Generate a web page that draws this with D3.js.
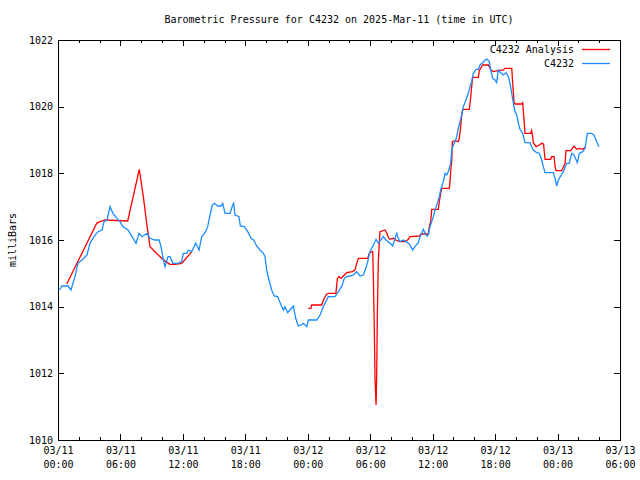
<!DOCTYPE html>
<html><head><meta charset="utf-8">
<script src="https://cdn.jsdelivr.net/npm/d3@7"></script>
<style>body{margin:0;background:#fff}svg{display:block}text{font-family:"DejaVu Sans Mono",monospace;font-size:10px;fill:#000}</style>
</head><body>
<script>
const title = "Barometric Pressure for C4232 on 2025-Mar-11 (time in UTC)";
const yLabel = "milliBars";
const seriesNames = ["C4232 Analysis", "C4232"];
const startTime = "2025-03-11T00:00:00Z";
const endTime = "2025-03-13T06:00:00Z";
const yTicks = [1010, 1012, 1014, 1016, 1018, 1020, 1022];
// hours since 03/11 00:00 UTC
const stationHours = [0.15,0.38,0.96,1.25,1.63,1.92,2.31,2.79,3.07,3.46,3.84,4.23,4.42,4.71,5.0,5.28,5.67,5.96,6.25,6.73,7.11,7.5,7.78,8.07,8.55,8.84,9.32,9.71,9.9,10.09,10.28,10.57,10.76,11.05,11.53,11.89,12.04,12.37,12.52,12.85,13.23,13.55,13.81,14.19,14.38,14.61,14.83,15.02,15.35,15.66,15.83,16.05,16.53,16.75,16.88,17.01,17.39,17.52,17.9,18.23,18.55,18.8,19.09,19.41,19.73,19.89,20.05,20.27,20.53,20.78,21.11,21.43,21.65,21.81,22.07,22.29,22.61,22.84,23.09,23.35,23.57,23.9,24.05,24.86,25.18,25.49,25.82,25.97,26.62,26.93,27.26,27.51,27.74,28.06,28.38,28.7,29.02,29.34,29.57,29.76,29.98,30.3,30.56,30.78,31.26,31.52,31.9,32.16,32.38,32.55,32.7,32.86,33.18,33.44,33.76,34.08,34.3,34.62,34.78,34.95,35.1,35.43,35.58,35.74,35.91,36.06,36.23,36.45,36.64,36.77,37.02,37.19,37.35,37.5,37.73,37.83,37.98,38.15,38.31,38.46,38.63,38.79,38.94,39.2,39.42,39.59,39.75,39.9,40.16,40.39,40.55,40.81,41.03,41.25,41.44,41.58,41.77,41.99,42.15,42.31,42.54,42.79,43.05,43.27,43.43,43.6,43.75,43.91,44.08,44.23,44.39,44.65,44.87,45.35,45.51,45.67,46.0,46.25,46.48,46.63,46.8,47.59,47.76,47.92,48.07,48.3,48.55,48.88,49.13,49.36,49.58,49.9,50.09,50.42,50.64,50.86,51.28,51.5,51.76,51.96];
const stationValues = [1014.5,1014.62,1014.62,1014.5,1014.9,1015.3,1015.4,1015.55,1015.9,1016.1,1016.25,1016.3,1016.55,1016.6,1017.0,1016.8,1016.65,1016.55,1016.4,1016.3,1016.1,1015.9,1016.2,1016.1,1016.2,1016.05,1016.0,1016.0,1015.8,1015.45,1015.2,1015.5,1015.5,1015.3,1015.3,1015.35,1015.6,1015.6,1015.7,1015.65,1015.9,1015.7,1016.1,1016.25,1016.4,1016.75,1017.05,1017.1,1017.02,1017.02,1017.1,1016.8,1016.8,1017.02,1017.1,1016.75,1016.7,1016.42,1016.4,1016.25,1016.05,1016.0,1015.82,1015.7,1015.6,1015.5,1015.1,1014.8,1014.5,1014.32,1014.3,1014.05,1013.9,1014.0,1013.82,1013.9,1014.02,1013.65,1013.42,1013.45,1013.5,1013.4,1013.6,1013.6,1013.75,1014.0,1014.2,1014.3,1014.3,1014.45,1014.6,1014.85,1014.9,1014.92,1014.95,1015.05,1014.92,1014.95,1015.15,1015.35,1015.65,1015.85,1016.02,1015.9,1016.1,1016.0,1015.9,1015.82,1016.05,1016.2,1016.05,1015.95,1016.0,1015.95,1015.88,1015.7,1015.8,1015.92,1016.1,1016.2,1016.32,1016.12,1016.15,1016.4,1016.55,1016.7,1016.9,1017.1,1017.3,1017.5,1017.75,1018.0,1017.95,1018.05,1018.3,1018.7,1018.85,1018.95,1019.1,1019.35,1019.55,1019.75,1020.0,1020.2,1020.4,1020.6,1020.75,1021.0,1021.12,1021.12,1021.25,1021.32,1021.4,1021.42,1021.35,1021.1,1020.85,1020.8,1020.72,1021.1,1021.02,1020.95,1021.02,1020.9,1020.7,1020.4,1020.1,1019.85,1019.75,1019.5,1019.32,1019.2,1018.92,1018.92,1018.8,1018.7,1018.62,1018.6,1018.4,1018.2,1018.02,1018.02,1017.85,1017.62,1017.8,1017.92,1018.05,1018.3,1018.3,1018.6,1018.55,1018.32,1018.6,1018.65,1018.75,1019.2,1019.2,1019.15,1018.95,1018.8];
// null marks the gap in the analysis series
const analysisHours = [0.84,3.72,4.04,4.52,6.7,7.81,8.2,8.52,8.84,9.32,9.96,10.36,10.76,11.24,11.89,12.85,13.5,24.05,24.3,24.38,25.34,25.5,25.82,26.0,26.7,26.85,27.0,27.2,27.51,27.74,28.28,28.54,28.7,28.86,29.76,29.9,30.14,30.24,30.3,30.39,30.46,30.56,30.62,30.68,30.78,30.94,31.42,31.58,31.74,31.9,32.22,32.45,32.86,33.34,33.66,33.82,34.72,34.88,35.58,35.68,35.81,35.91,36.54,36.64,36.77,36.87,37.6,37.67,37.73,37.83,37.89,38.15,38.46,38.56,38.69,38.79,38.89,39.52,39.66,39.75,39.85,40.39,40.48,40.81,41.35,41.61,41.83,42.31,42.79,42.95,43.6,43.69,43.82,43.91,44.55,44.65,44.77,44.87,45.42,45.51,45.61,45.67,45.93,46.25,46.48,46.65,46.8,47.34,47.44,47.66,47.76,47.86,48.4,48.5,48.72,48.81,49.27,49.58,49.84,50.09,50.42,50.64];
const analysisValues = [1014.68,1016.5,1016.55,1016.6,1016.57,1018.12,1017.3,1016.5,1015.8,1015.65,1015.45,1015.35,1015.27,1015.27,1015.3,1015.65,null,1013.95,1013.95,1014.05,1014.05,1014.2,1014.38,1014.4,1014.4,1014.85,1014.9,1014.85,1014.95,1015.02,1015.05,1015.1,1015.3,1015.45,1015.45,1015.6,1015.65,1015.65,1014.9,1013.4,1011.85,1011.05,1011.9,1013.65,1015.4,1016.25,1016.3,1016.22,1016.08,1016.02,1016.05,1016.0,1015.95,1015.95,1016.02,1016.1,1016.12,1016.18,1016.18,1016.4,1016.55,1016.92,1016.92,1017.15,1017.4,1017.55,1017.55,1017.75,1018.05,1018.35,1018.95,1018.98,1018.95,1019.05,1019.4,1019.75,1019.92,1019.92,1020.3,1020.62,1020.88,1020.88,1021.08,1021.25,1021.25,1021.1,1021.05,1021.08,1021.1,1021.15,1021.15,1020.7,1020.15,1020.08,1020.08,1020.12,1019.65,1019.2,1019.2,1019.28,1019.1,1018.92,1018.8,1018.85,1018.9,1018.88,1018.42,1018.42,1018.5,1018.5,1018.2,1018.08,1018.08,1018.15,1018.3,1018.68,1018.68,1018.82,1018.72,1018.75,1018.72,1018.78];
const colors = ["#ff0000", "#1a8cff"];

const W = 640, H = 480, L = 58, R = 620, T = 40, B = 440;
const t0 = new Date(startTime), t1 = new Date(endTime);
const toDate = h => new Date(t0.getTime() + h * 3600e3);
const x = d3.scaleUtc().domain([t0, t1]).range([L, R]);
const y = d3.scaleLinear().domain([1010, 1022]).range([B, T]);

const svg = d3.select("body").append("svg").attr("width", W).attr("height", H);

const majorT = d3.utcHour.every(6).range(t0, new Date(t1.getTime() + 1));
const minorT = d3.utcHour.every(2).range(t0, new Date(t1.getTime() + 1)).filter(d => d.getUTCHours() % 6 !== 0);
const fmt = d3.utcFormat("%m/%d|%H:%M");

function clean(g) { g.select(".domain").remove(); g.selectAll(".tick line").attr("stroke", "#000").attr("shape-rendering", "crispEdges"); }

// bottom axis major with labels
const gb = svg.append("g").attr("transform", `translate(0,${B})`)
  .call(d3.axisBottom(x).tickValues(majorT).tickSizeInner(-6).tickSizeOuter(0).tickPadding(7).tickFormat(fmt));
clean(gb);
gb.selectAll("text").each(function(d) {
  const parts = fmt(d).split("|");
  const t = d3.select(this).text(null).attr("font-size", null);
  t.append("tspan").attr("x", 0).attr("dy", "0.71em").text(parts[0]);
  t.append("tspan").attr("x", 0).attr("dy", "1.4em").text(parts[1]);
}).attr("dy", null).attr("y", 7);
svg.append("g").attr("transform", `translate(0,${B})`)
  .call(d3.axisBottom(x).tickValues(minorT).tickSizeInner(-3).tickSizeOuter(0).tickFormat(""))
  .call(clean);
// top mirror ticks
svg.append("g").attr("transform", `translate(0,${T})`)
  .call(d3.axisTop(x).tickValues(majorT).tickSizeInner(-6).tickSizeOuter(0).tickFormat(""))
  .call(clean);
svg.append("g").attr("transform", `translate(0,${T})`)
  .call(d3.axisTop(x).tickValues(minorT).tickSizeInner(-3).tickSizeOuter(0).tickFormat(""))
  .call(clean);
// left axis
const gl = svg.append("g").attr("transform", `translate(${L},0)`)
  .call(d3.axisLeft(y).tickValues(yTicks).tickSizeInner(-6).tickSizeOuter(0).tickPadding(5).tickFormat(d3.format("d")));
clean(gl);
gl.selectAll("text").attr("font-size", null);
svg.append("g").attr("transform", `translate(${R},0)`)
  .call(d3.axisRight(y).tickValues(yTicks).tickSizeInner(-6).tickSizeOuter(0).tickFormat(""))
  .call(clean);

// border
svg.append("rect").attr("x", L + 0.5).attr("y", T + 0.5).attr("width", R - L).attr("height", B - T)
  .attr("fill", "none").attr("stroke", "#000").attr("stroke-width", 1);

// lines
const line = d3.line().defined(d => d[1] != null).x(d => x(toDate(d[0]))).y(d => y(d[1]));
const analysis = analysisHours.map((h, i) => [h, analysisValues[i]]);
const station = stationHours.map((h, i) => [h, stationValues[i]]);
svg.append("path").datum(analysis).attr("d", line).style("fill", "none").style("stroke", colors[0]).style("stroke-width", 1.3);
svg.append("path").datum(station).attr("d", line).style("fill", "none").style("stroke", colors[1]).style("stroke-width", 1.3);

// legend
const leg = svg.append("g").attr("class", "legend");
seriesNames.forEach((n, i) => {
  const yy = 49 + i * 14;
  leg.append("text").attr("x", 574).attr("y", yy).attr("dy", "0.35em").attr("text-anchor", "end").text(n);
  leg.append("path").attr("d", `M582,${yy + 0.5}H610`)
    .style("fill", "none").style("stroke", colors[i]).style("stroke-width", 1.3);
});

// title and y label
svg.append("text").attr("x", (L + R) / 2).attr("y", 19).attr("dy", "0.35em").attr("text-anchor", "middle").text(title);
svg.append("text").attr("transform", `translate(12,${(T + B) / 2}) rotate(-90)`).attr("dy", "0.35em")
  .attr("text-anchor", "middle").text(yLabel);
</script>
</body></html>
